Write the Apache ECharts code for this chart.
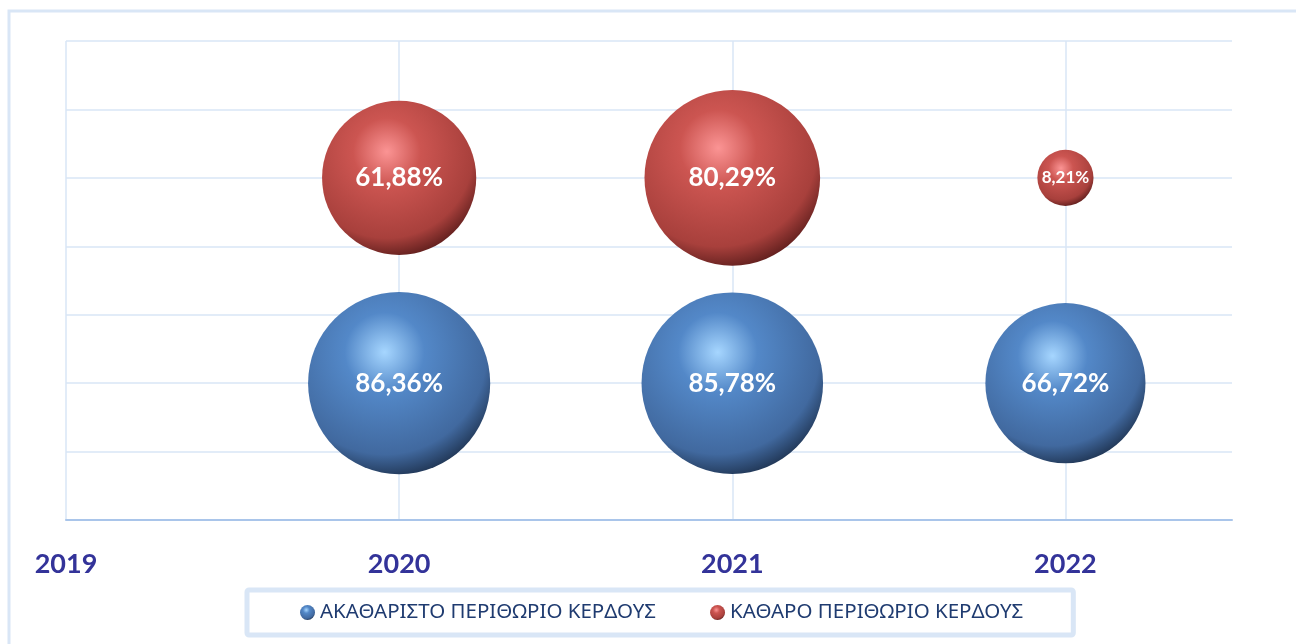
<!DOCTYPE html>
<html>
<head>
<meta charset="utf-8">
<title>Περιθώριο κέρδους</title>
<script src="https://cdn.jsdelivr.net/npm/echarts@6/dist/echarts.min.js"></script>
<style>
    html, body { margin: 0; padding: 0; background: #fff; }
    #chart { width: 1296px; height: 644px; }
</style>
</head>
<body>
<div id="chart"></div>
<script>
// δεδομένα (έτη, θέση στον κάθετο άξονα, τιμές %)
const years = [2020, 2021, 2022];
const grossName = 'ΑΚΑΘΑΡΙΣΤΟ ΠΕΡΙΘΩΡΙΟ ΚΕΡΔΟΥΣ';
const netName = 'ΚΑΘΑΡΟ ΠΕΡΙΘΩΡΙΟ ΚΕΡΔΟΥΣ';
const grossRow = [2, 2, 2];
const netRow = [5, 5, 5];
const grossMargin = [86.36, 85.78, 66.72];
const netMargin = [61.88, 80.29, 8.21];

const gridColor = '#d9e6f6';

function toPoints(rows, sizes) {
    return years.map((y, i) => [y, rows[i], sizes[i]]);
}

function sphere(light, mid, dark, edge) {
    return {
        type: 'radial', x: 0.42, y: 0.33, r: 0.78,
        colorStops: [
            { offset: 0, color: light },
            { offset: 0.28, color: mid },
            { offset: 0.72, color: dark },
            { offset: 1, color: edge }
        ]
    };
}

const fmt = v => v.toFixed(2).replace('.', ',') + '%';

const chart = echarts.init(document.getElementById('chart'));
chart.setOption({
    animation: false,
    graphic: [
        {
            type: 'rect',
            shape: { x: 9, y: 11, width: 1310, height: 660 },
            style: { fill: 'none', stroke: gridColor, lineWidth: 3 },
            silent: true
        }
    ],
    grid: { left: 66, right: 64, top: 41, bottom: 124 },
    xAxis: {
        type: 'value',
        min: 2019,
        max: 2022.5,
        interval: 1,
        axisLine: { show: true, lineStyle: { color: '#a9c5ea', width: 2 } },
        axisTick: { show: false },
        axisLabel: {
            margin: 31,
            showMaxLabel: false,
            color: '#333399',
            fontFamily: 'Lato',
            fontWeight: 'bold',
            fontSize: 27,
            formatter: v => (Number.isInteger(v) ? String(v) : '')
        },
        splitLine: { show: true, showMaxLine: false, lineStyle: { color: gridColor, width: 1.5 } }
    },
    yAxis: {
        type: 'value',
        min: 0,
        max: 7,
        interval: 1,
        axisLine: { show: false },
        axisTick: { show: false },
        axisLabel: { show: false },
        splitLine: { show: true, lineStyle: { color: gridColor, width: 1.5 } }
    },
    legend: {
        left: 247,
        top: 590,
        padding: [12, 50, 12, 53],
        itemGap: 54,
        itemWidth: 15,
        itemHeight: 15,
        icon: 'circle',
        borderColor: gridColor,
        borderWidth: 5,
        borderRadius: 2,
        textStyle: { color: '#1f3b70', fontFamily: 'Noto Sans', fontSize: 20.5 },
        data: [grossName, netName]
    },
    series: [
        {
            name: grossName,
            type: 'scatter',
            data: toPoints(grossRow, grossMargin),
            symbolSize: d => 19.6 * Math.sqrt(d[2]),
            itemStyle: { opacity: 1, color: sphere('#a6d6ff', '#5388c8', '#41699f', '#0c1626') },
            label: {
                show: true,
                position: 'inside',
                color: '#fff',
                fontFamily: 'Lato',
                fontWeight: 'bold',
                fontSize: 26,
                formatter: p => fmt(p.value[2])
            }
        },
        {
            name: netName,
            type: 'scatter',
            data: toPoints(netRow, netMargin).map((d, i) =>
                netMargin[i] < 20 ? { value: d, label: { fontSize: 17 } } : d),
            symbolSize: d => 19.6 * Math.sqrt(d[2]),
            itemStyle: { opacity: 1, color: sphere('#fb9494', '#cc5551', '#a8403c', '#330a0a') },
            label: {
                show: true,
                position: 'inside',
                color: '#fff',
                fontFamily: 'Lato',
                fontWeight: 'bold',
                fontSize: 26,
                formatter: p => fmt(p.value[2])
            }
        }
    ]
});
</script>
</body>
</html>
